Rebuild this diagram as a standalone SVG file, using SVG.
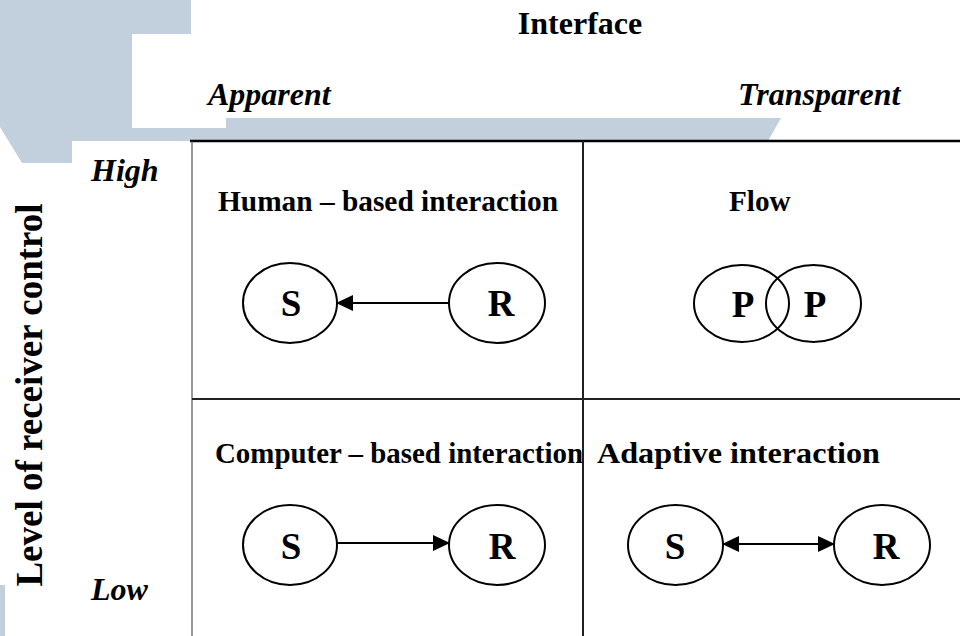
<svg xmlns="http://www.w3.org/2000/svg" width="960" height="636" viewBox="0 0 960 636">
<style>
.t{font-family:"Liberation Serif","Times New Roman",serif;font-weight:bold;fill:#000}
.i{font-style:italic}
.ell{fill:none;stroke:#000;stroke-width:2}
.lbl{font-size:37px;text-anchor:middle}
.conn{stroke:#000;stroke-width:2;fill:none}
</style>
<defs>
<marker id="ah" viewBox="0 0 17 16" refX="16" refY="8" markerWidth="17" markerHeight="16" markerUnits="userSpaceOnUse" orient="auto-start-reverse">
<path d="M0,0 L17,8 L0,16 Z" fill="#000"/>
</marker>
</defs>
<rect width="960" height="636" fill="#fff"/>
<g id="watermark">
<polygon fill="#c2d0dd" points="0,0 191,0 191,34 132,34 132,128 226,128 226,118 781,118 768,141 72,141 72,163 22,163 0,127"/>
<rect x="0" y="585" width="5" height="51" fill="#c2d0dd"/>
</g>
<g id="grid">
<line x1="190" y1="141" x2="960" y2="141" stroke="#000" stroke-width="2.5"/>
<line x1="192" y1="141" x2="192" y2="636" stroke="#555" stroke-width="1.2"/>
<line x1="583" y1="141" x2="583" y2="636" stroke="#222" stroke-width="2"/>
<line x1="192" y1="399" x2="960" y2="399" stroke="#222" stroke-width="2"/>
</g>
<g id="axis-labels">
<text class="t" x="580" y="34" font-size="32" text-anchor="middle">Interface</text>
<text class="t i" x="208" y="105" font-size="32">Apparent</text>
<text class="t i" x="738" y="105" font-size="32">Transparent</text>
<text class="t i" x="91" y="181" font-size="32">High</text>
<text class="t i" x="91" y="600" font-size="32">Low</text>
<text class="t" transform="translate(42,395) rotate(-90)" font-size="37" text-anchor="middle">Level of receiver control</text>
</g>
<g id="cell-titles">
<text class="t" x="218" y="211" font-size="29.2" textLength="340" lengthAdjust="spacingAndGlyphs">Human – based interaction</text>
<text class="t" x="729" y="211" font-size="29.2">Flow</text>
<text class="t" x="215" y="463" font-size="29.2" textLength="368" lengthAdjust="spacingAndGlyphs">Computer – based interaction</text>
<text class="t" x="597" y="463" font-size="30" textLength="283" lengthAdjust="spacingAndGlyphs">Adaptive interaction</text>
</g>
<g id="node-hs"><ellipse class="ell" cx="290" cy="303" rx="47" ry="40"/><text class="t lbl" x="291" y="316">S</text></g>
<g id="node-hr"><ellipse class="ell" cx="497" cy="303" rx="48" ry="40"/><text class="t lbl" x="501" y="316">R</text></g>
<g id="node-p1"><ellipse class="ell" cx="741.5" cy="303.5" rx="47.5" ry="38.5"/><text class="t lbl" x="743" y="317">P</text></g>
<g id="node-p2"><ellipse class="ell" cx="813.5" cy="303.5" rx="47.5" ry="38.5"/><text class="t lbl" x="815" y="317">P</text></g>
<g id="node-cs"><ellipse class="ell" cx="290" cy="545" rx="47" ry="40"/><text class="t lbl" x="291" y="559">S</text></g>
<g id="node-cr"><ellipse class="ell" cx="497" cy="545" rx="48" ry="40"/><text class="t lbl" x="502" y="559">R</text></g>
<g id="node-as"><ellipse class="ell" cx="675.5" cy="545" rx="47.5" ry="40"/><text class="t lbl" x="675" y="559">S</text></g>
<g id="node-ar"><ellipse class="ell" cx="882" cy="545" rx="48" ry="40"/><text class="t lbl" x="886" y="559">R</text></g>
<g id="connectors">
<line class="conn" x1="449" y1="303" x2="337" y2="303" marker-end="url(#ah)"/>
<line class="conn" x1="337" y1="543" x2="449" y2="543" marker-end="url(#ah)"/>
<line class="conn" x1="723" y1="544" x2="834" y2="544" marker-start="url(#ah)" marker-end="url(#ah)"/>
</g>
</svg>
